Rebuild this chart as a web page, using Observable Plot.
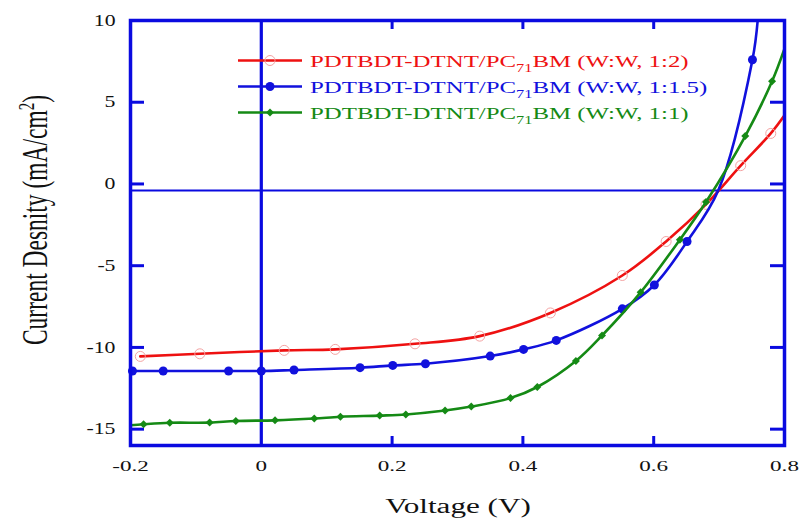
<!DOCTYPE html>
<html>
<head>
<meta charset="utf-8">
<script src="https://cdn.jsdelivr.net/npm/d3@7"></script>
<script src="https://cdn.jsdelivr.net/npm/@observablehq/plot@0.6"></script>
<style>
  html, body { margin: 0; padding: 0; background: #fff; }
  #chart { position: relative; width: 803px; height: 520px; }
</style>
</head>
<body>
<div id="chart"></div>
<script>
// ---------- data ----------
const xTicks = [-0.2, 0, 0.2, 0.4, 0.6, 0.8];
const xInnerTicks = [0.2, 0.4, 0.6];
const yTicks = [10, 5, 0, -5, -10, -15];
const yInnerTicks = [5, 0, -5, -10, -15];
const zeroLineJ = -0.4;   // horizontal reference line as drawn
const zeroLineV = 0;

// 1:2 (red, open circles)
const redV = [-0.185, -0.094, 0.035, 0.113, 0.235, 0.334, 0.442, 0.552, 0.619, 0.680, 0.733, 0.779];
const redJ = [-10.55, -10.39, -10.18, -10.12, -9.78, -9.31, -7.89, -5.60, -3.52, -1.25, 1.12, 3.09];
const redLineOnlyV = [0.8];
const redLineOnlyJ = [4.2];

// 1:1.5 (blue, filled circles)
const blueV = [-0.197, -0.15, -0.05, 0.0, 0.05, 0.151, 0.201, 0.251, 0.35, 0.401, 0.451, 0.552, 0.601, 0.651, 0.751];
const blueJ = [-11.44, -11.44, -11.44, -11.44, -11.38, -11.24, -11.10, -11.0, -10.53, -10.12, -9.57, -7.64, -6.18, -3.52, 7.6];
const blueLineOnlyV = [0.699, 0.759];
const blueLineOnlyJ = [-0.37, 10];

// 1:1 (green, diamonds)
const greenV = [-0.18, -0.14, -0.079, -0.039, 0.021, 0.081, 0.121, 0.181, 0.221, 0.281, 0.321, 0.381, 0.422, 0.481, 0.521, 0.58, 0.64, 0.68, 0.74, 0.781];
const greenJ = [-14.7, -14.61, -14.6, -14.5, -14.46, -14.35, -14.24, -14.17, -14.1, -13.86, -13.62, -13.1, -12.42, -10.83, -9.27, -6.63, -3.41, -1.1, 2.93, 6.28];
const greenLineOnlyV = [-0.2, 0.8];
const greenLineOnlyJ = [-14.76, 8.27];

const seriesNames = ["(W:W, 1:2)", "(W:W, 1:1.5)", "(W:W, 1:1)"];
const seriesColors = ["#ee1111", "#1111dd", "#158a15"];
const markerPink = "#f4a3a3";
const axisBlue = "#0a0ae0";

// ---------- helpers ----------
const zip = (V, J) => V.map((v, i) => ({v, j: J[i]}));
const lineOf = (V, J, V2, J2) => zip(V, J).concat(zip(V2, J2)).sort((a, b) => a.v - b.v);

const redPts = zip(redV, redJ), bluePts = zip(blueV, blueJ), greenPts = zip(greenV, greenJ);
const redLine = lineOf(redV, redJ, redLineOnlyV, redLineOnlyJ);
const blueLine = lineOf(blueV, blueJ, blueLineOnlyV, blueLineOnlyJ);
const greenLine = lineOf(greenV, greenJ, greenLineOnlyV, greenLineOnlyJ);

const W = 803, H = 520;
const M = {left: 130, right: 19, top: 20, bottom: 75};
const fw = W - M.left - M.right, fh = H - M.top - M.bottom;
const FONT = "'Liberation Serif', 'Times New Roman', serif";
const TX = 9, TY = 14; // inward tick lengths (px)

const chart = Plot.plot({
  width: W, height: H,
  marginLeft: M.left, marginRight: M.right, marginTop: M.top, marginBottom: M.bottom,
  style: {fontFamily: FONT, background: "#fff", overflow: "visible"},
  x: {domain: [-0.2, 0.8], axis: null},
  y: {domain: [-16, 10], axis: null},
  marks: [
    Plot.ruleY([zeroLineJ], {stroke: axisBlue, strokeWidth: 2.2}),
    Plot.ruleX([zeroLineV], {stroke: axisBlue, strokeWidth: 3.2}),
    Plot.tickX(xInnerTicks, {x: d => d, stroke: axisBlue, strokeWidth: 3, insetTop: fh - TX}),
    Plot.tickX(xInnerTicks, {x: d => d, stroke: axisBlue, strokeWidth: 3, insetBottom: fh - TX}),
    Plot.tickY(yInnerTicks, {y: d => d, stroke: axisBlue, strokeWidth: 3, insetRight: fw - TY}),
    Plot.tickY(yInnerTicks, {y: d => d, stroke: axisBlue, strokeWidth: 3, insetLeft: fw - TY}),
    Plot.line(redLine, {x: "v", y: "j", stroke: seriesColors[0], strokeWidth: 2.6, curve: "catmull-rom", clip: true}),
    Plot.dot(redPts, {x: "v", y: "j", r: 5, stroke: markerPink, strokeWidth: 1, fill: "none"}),
    Plot.line(blueLine, {x: "v", y: "j", stroke: seriesColors[1], strokeWidth: 2.6, curve: "catmull-rom", clip: true}),
    Plot.dot(bluePts, {x: "v", y: "j", r: 4.5, fill: seriesColors[1], stroke: "none"}),
    Plot.line(greenLine, {x: "v", y: "j", stroke: seriesColors[2], strokeWidth: 2.6, curve: "catmull-rom", clip: true}),
    Plot.dot(greenPts, {x: "v", y: "j", r: 3.6, symbol: "diamond2", fill: seriesColors[2], stroke: "none"}),
    Plot.frame({stroke: axisBlue, strokeWidth: 3.5}),
    Plot.axisX(xTicks, {anchor: "bottom", label: null, tickSize: 0, tickPadding: 16, fontSize: 14, tickFormat: d => String(+d.toFixed(1)), fill: "#111"}),
    Plot.axisY(yTicks, {anchor: "left", label: null, tickSize: 0, tickPadding: 15, fontSize: 16, tickFormat: d => String(d), fill: "#111"})
  ]
});
document.getElementById("chart").appendChild(chart);

// stretch tick labels horizontally (as in the reference)
const svg = d3.select(chart);
svg.selectAll("g[aria-label='x-axis tick label'] text").each(function() {
  const t = d3.select(this); t.attr("transform", (t.attr("transform") || "") + " scale(1.65,1)");
});
svg.selectAll("g[aria-label='y-axis tick label'] text").each(function() {
  const t = d3.select(this); t.attr("transform", (t.attr("transform") || "") + " scale(1.36,1)");
});

// axis titles
svg.append("text")
  .attr("transform", `translate(${M.left + fw / 2 + 1},513) scale(1.56,1)`)
  .attr("text-anchor", "middle").attr("font-family", FONT).attr("font-size", 20).attr("fill", "#111")
  .text("Voltage (V)");

const yl = svg.append("text")
  .attr("transform", "translate(47,220) rotate(-90) scale(1,1.5)")
  .attr("text-anchor", "middle").attr("font-family", FONT).attr("font-size", 23.5).attr("fill", "#111");
yl.append("tspan").text("Current Desnity (mA/cm");
yl.append("tspan").attr("font-size", 15).attr("dy", -9).text("2");
yl.append("tspan").attr("dy", 9).text(")");

// legend
const lg = svg.append("g");
seriesNames.forEach((name, i) => {
  const y = 60.5 + i * 26, c = seriesColors[i];
  lg.append("line").attr("x1", 238).attr("x2", 302).attr("y1", y).attr("y2", y)
    .attr("stroke", c).attr("stroke-width", 2.6);
  if (i === 0) lg.append("circle").attr("cx", 270).attr("cy", y).attr("r", 5).attr("fill", "none").attr("stroke", markerPink);
  if (i === 1) lg.append("circle").attr("cx", 270).attr("cy", y).attr("r", 4.5).attr("fill", c);
  if (i === 2) lg.append("path").attr("transform", `translate(270,${y})`).attr("fill", c)
    .attr("d", d3.symbol(d3.symbolDiamond2, 40)());
  const t = lg.append("text").attr("transform", `translate(310,${y + 6}) scale(1.42,1)`)
    .attr("text-anchor", "start")
    .attr("font-family", FONT).attr("font-size", 17.5).attr("fill", c);
  t.append("tspan").text("PDTBDT-DTNT/PC");
  t.append("tspan").attr("font-size", 11.5).attr("dy", 5).text("71");
  t.append("tspan").attr("dy", -5).text("BM " + name);
});
</script>
</body>
</html>
